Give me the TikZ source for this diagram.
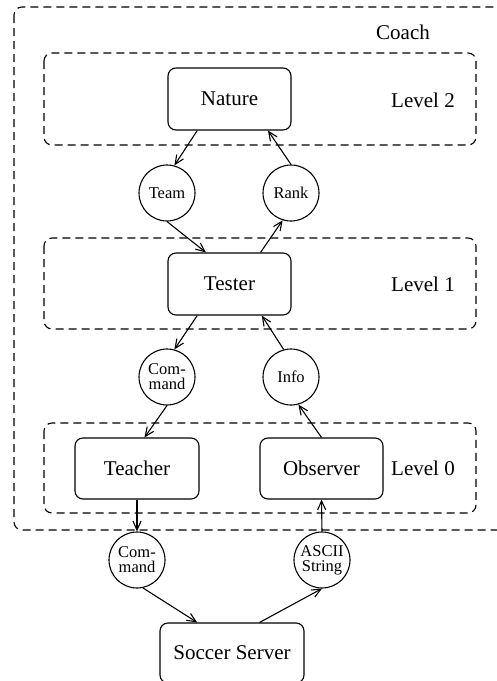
\documentclass[tikz,border=0pt]{standalone}
\usepackage{fontspec}
\setmainfont{Liberation Serif}
\usetikzlibrary{arrows.meta,calc}
\begin{document}
\begin{tikzpicture}[x=1pt,y=-1pt,line width=1.1pt,
  dbox/.style={draw,dash pattern=on 8pt off 5pt,rounded corners=8pt},
  sbox/.style={draw,rounded corners=8pt,minimum width=123pt,minimum height=62pt,font=\fontsize{21}{24}\selectfont,inner sep=0pt},
  msg/.style={draw,circle,minimum size=56pt,inner sep=0pt,align=center,font=\fontsize{16.5}{15}\selectfont},
  lbl/.style={font=\fontsize{21}{24}\selectfont,inner sep=0pt},
  arr/.style={-{Straight Barb[length=9pt,width=8pt]}}]
\useasboundingbox (0,0) rectangle (497,681);
\clip (0,0) rectangle (497,681);
% containers
\draw[dbox] (14,7) rectangle (520,530);
\node[lbl] (coach) at (403,32) {Coach};
\draw[dbox] (44,53) rectangle (476,145);
\draw[dbox] (44,238) rectangle (476,329);
\draw[dbox] (44,423) rectangle (476,513);
\node[lbl] (l2) at (423,100) {Level 2};
\node[lbl] (l1) at (423,284) {Level 1};
\node[lbl] (l0) at (423,468) {Level 0};
% main boxes
\node[sbox] (nature) at (229.5,99) {Nature};
\node[sbox] (tester) at (229.5,284) {Tester};
\node[sbox,minimum width=124pt,minimum height=61pt] (teacher) at (137,468.5) {Teacher};
\node[sbox,minimum height=61pt] (observer) at (321.5,468.5) {Observer};
\node[sbox,minimum width=144pt,minimum height=60pt] (soccer) at (232,653) {Soccer Server};
% message circles
\node[msg] (team) at (167,193) {Team};
\node[msg] (rank) at (291,193) {Rank};
\node[msg] (cmd1) at (167,377) {Com-\\mand};
\node[msg] (info) at (291,377) {Info};
\node[msg] (cmd2) at (137,560) {Com-\\mand};
\node[msg] (ascii) at (322,560) {ASCII\\String};
% connectors
\draw[arr] ($(nature.south west)!0.24!(nature.south east)$) -- (team.75);
\draw[arr] (rank.north) -- ($(nature.south west)!0.81!(nature.south east)$);
\draw[arr] (team.south) -- ($(tester.north west)!0.31!(tester.north east)$);
\draw[arr] ($(tester.north west)!0.75!(tester.north east)$) -- (rank.253);
\draw[arr] ($(tester.south west)!0.24!(tester.south east)$) -- (cmd1.75);
\draw[arr] (info.105) -- ($(tester.south west)!0.76!(tester.south east)$);
\draw[arr] (cmd1.south) -- ($(teacher.north west)!0.56!(teacher.north east)$);
\draw[arr] (observer.north) -- (info.285);
\draw[arr] (teacher.south) -- (cmd2.north);
\draw[arr] (ascii.north) -- (observer.south);
\draw[arr] (cmd2.282) -- ($(soccer.north west)!0.26!(soccer.north east)$);
\draw[arr] ($(soccer.north west)!0.69!(soccer.north east)$) -- (ascii.south);
\end{tikzpicture}
\end{document}
